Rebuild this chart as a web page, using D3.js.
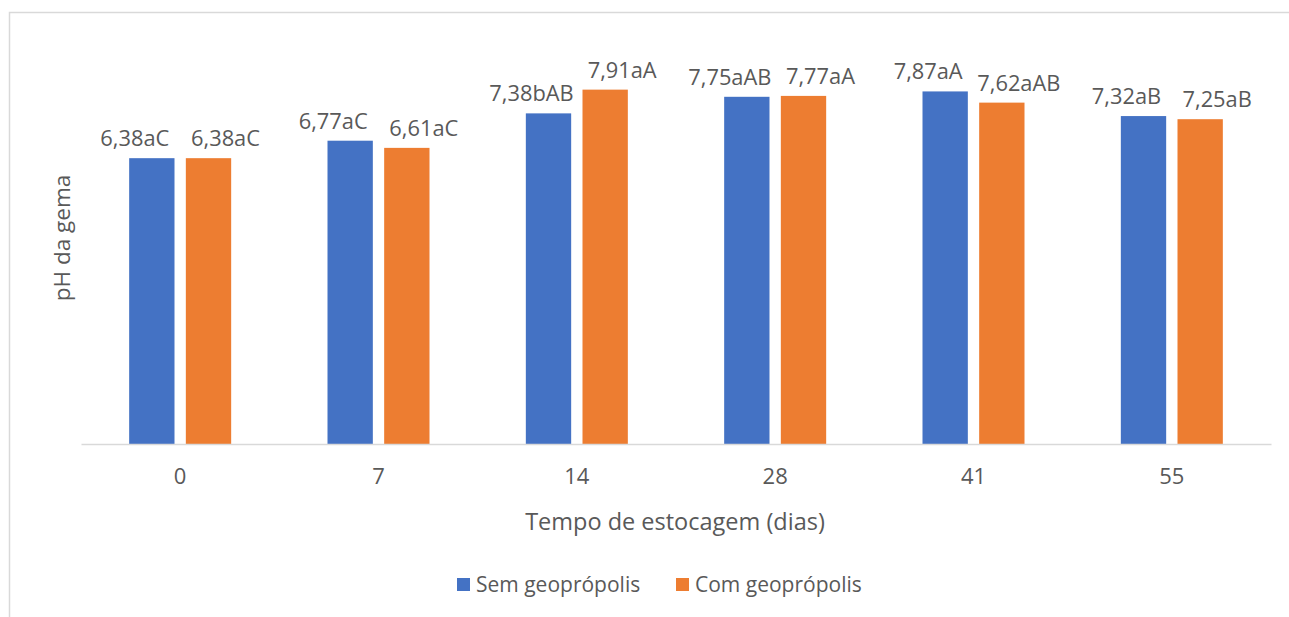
<!DOCTYPE html>
<html>
<head>
<meta charset="utf-8">
<script src="https://cdn.jsdelivr.net/npm/d3@7"></script>
<style>
  html, body { margin: 0; padding: 0; background: #fff; }
  svg text { font-family: "Open Sans", "Noto Sans", sans-serif; fill: #595959; }
</style>
</head>
<body>
<div id="chart"></div>
<script>
// chart data
const days = ["0", "7", "14", "28", "41", "55"];
const seriesNames = ["Sem geoprópolis", "Com geoprópolis"];
const semValues = [6.38, 6.77, 7.38, 7.75, 7.87, 7.32];
const comValues = [6.38, 6.61, 7.91, 7.77, 7.62, 7.25];
const semLabels = ["6,38aC", "6,77aC", "7,38bAB", "7,75aAB", "7,87aA", "7,32aB"];
const comLabels = ["6,38aC", "6,61aC", "7,91aA", "7,77aA", "7,62aAB", "7,25aB"];
const colors = ["#4472C4", "#ED7D31"];

const W = 1289, H = 617;
const plot = { left: 81, right: 1271, top: 40.8, bottom: 444 };

const rows = days.map((d, i) => ({
    day: d,
    values: [
        { key: seriesNames[0], value: semValues[i], label: semLabels[i] },
        { key: seriesNames[1], value: comValues[i], label: comLabels[i] }
    ]
}));

const svg = d3.select("#chart").append("svg")
    .attr("width", W)
    .attr("height", H);

// outer chart frame (runs off the right and bottom edge)
svg.append("rect")
    .attr("x", 9.5).attr("y", 12.5)
    .attr("width", W + 20).attr("height", H + 20)
    .attr("fill", "none")
    .attr("stroke", "#d9d9d9")
    .attr("stroke-width", 1.5);

const x0 = d3.scaleBand()
    .domain(days)
    .range([plot.left, plot.right])
    .padding(0);

const x1 = d3.scaleBand()
    .domain(seriesNames)
    .range([0, x0.bandwidth()])
    .paddingInner(0.2)
    .paddingOuter(0.85);

const y = d3.scaleLinear()
    .domain([0, 9])
    .range([plot.bottom, plot.top]);

const color = d3.scaleOrdinal().domain(seriesNames).range(colors);

const groups = svg.selectAll(".day")
    .data(rows)
  .enter().append("g")
    .attr("class", "day")
    .attr("transform", d => `translate(${x0(d.day)},0)`);

groups.selectAll("rect")
    .data(d => d.values)
  .enter().append("rect")
    .attr("x", d => x1(d.key))
    .attr("y", d => y(d.value))
    .attr("width", x1.bandwidth())
    .attr("height", d => y(0) - y(d.value))
    .attr("fill", d => color(d.key));

// data labels, pushed apart so the pair does not collide
groups.selectAll(".label")
    .data(d => d.values)
  .enter().append("text")
    .attr("class", "label")
    .attr("text-anchor", "middle")
    .attr("transform", (d, i) => {
        const lx = x1(d.key) + x1.bandwidth() / 2 + (i === 0 ? -17 : 17);
        return `translate(${lx},${y(d.value) - 12}) scale(1.04,1)`;
    })
    .style("font-size", "21px")
    .text(d => d.label);

// x axis
const xAxis = svg.append("g")
    .attr("transform", `translate(0,${plot.bottom})`)
    .call(d3.axisBottom(x0).tickSize(0).tickPadding(0));
xAxis.select(".domain")
    .attr("stroke", "#d9d9d9")
    .attr("stroke-width", 1.5);
xAxis.selectAll(".tick text")
    .attr("y", 40).attr("dy", null)
    .style("font-size", "22px")
    .style("font-family", null)
    .attr("fill", "#595959");

// axis titles
svg.append("text")
    .attr("text-anchor", "middle")
    .attr("x", (plot.left + plot.right) / 2 - 1)
    .attr("y", plot.bottom + 86)
    .style("font-size", "23.5px")
    .text("Tempo de estocagem (dias)");

svg.append("text")
    .attr("text-anchor", "middle")
    .attr("transform", "translate(70,238) rotate(-90)")
    .style("font-size", "22.5px")
    .text("pH da gema");

// legend
const legend = svg.append("g")
    .attr("transform", "translate(457,578)");
const legendX = d3.scaleOrdinal().domain(seriesNames).range([0, 219]);
const item = legend.selectAll(".item")
    .data(seriesNames)
  .enter().append("g")
    .attr("transform", d => `translate(${legendX(d)},0)`);
item.append("rect")
    .attr("width", 13).attr("height", 13)
    .attr("fill", d => color(d));
item.append("text")
    .attr("x", 19).attr("y", 13.5)
    .style("font-size", "21px")
    .text(d => d);
</script>
</body>
</html>
